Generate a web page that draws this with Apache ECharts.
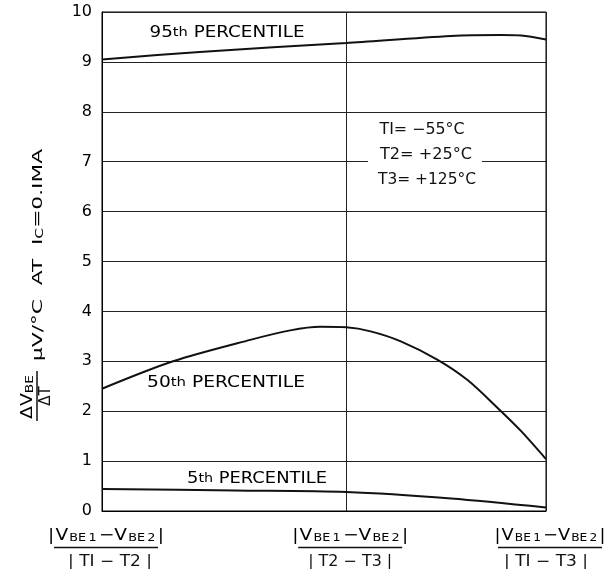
<!DOCTYPE html>
<html><head><meta charset="utf-8">
<script src="https://cdn.jsdelivr.net/npm/echarts@6/dist/echarts.min.js"></script>
<style>html,body{margin:0;padding:0;background:#fff}#c{width:605px;height:569px}</style>
</head><body><div id="c"></div>
<script>
// ---- data ----
const yTicks = [0, 1, 2, 3, 4, 5, 6, 7, 8, 9, 10];
const ratioPos = [0, 55, 100];               // x positions of the three ratio categories
const ratioDen = ['| TI − T2 |', '| T2 − T3 |', '| TI − T3 |'];
const p95X = [0, 22, 55, 78.6, 89.8, 94.4, 100];
const p95Y = [9.05, 9.2, 9.38, 9.52, 9.54, 9.53, 9.45];
const p50X = [0, 16, 33.4, 42.4, 49.2, 55, 60.5, 67.3, 75.6, 82.4, 89.4, 94.4, 100];
const p50Y = [2.45, 3.0, 3.43, 3.62, 3.69, 3.68, 3.6, 3.4, 3.03, 2.62, 2.04, 1.6, 1.04];
const p5X = [0, 30, 55, 78.6, 100];
const p5Y = [0.44, 0.41, 0.38, 0.25, 0.07];
const pctLabels = [['95', 'th', ' PERCENTILE'], ['50', 'th', ' PERCENTILE'], ['5', 'th', ' PERCENTILE']];
const tempLines = ['TI= −55°C', 'T2= +25°C', 'T3= +125°C'];

const FONT = 'DejaVu Sans';
const INK = '#111';
const chart = echarts.init(document.getElementById('c'), null, {renderer: 'canvas'});
const zip = (xs, ys) => xs.map((x, i) => [x, ys[i]]);
const lineSeries = (name, xs, ys) => ({
  name, type: 'line', data: zip(xs, ys), smooth: 0.3, showSymbol: false,
  lineStyle: {color: INK, width: 2}, silent: true, z: 3
});

chart.setOption({
  animation: false,
  backgroundColor: '#fff',
  grid: {left: 102, right: 59, top: 12, bottom: 58, show: true, borderColor: '#000', borderWidth: 1, backgroundColor: 'transparent'},
  xAxis: {
    type: 'value', min: ratioPos[0], max: ratioPos[2], interval: ratioPos[1],
    axisLine: {show: true, lineStyle: {color: '#000', width: 1}},
    axisTick: {show: false}, axisLabel: {show: false},
    splitLine: {show: true, lineStyle: {color: '#222', width: 1}}
  },
  yAxis: {
    type: 'value', min: yTicks[0], max: yTicks[yTicks.length - 1], interval: 1,
    axisLine: {show: true, lineStyle: {color: '#000', width: 1}},
    axisTick: {show: false},
    axisLabel: {color: '#000', fontSize: 16, fontFamily: FONT, margin: 10},
    splitLine: {show: true, lineStyle: {color: '#222', width: 1}}
  },
  series: [
    lineSeries('95th', p95X, p95Y),
    lineSeries('50th', p50X, p50Y),
    lineSeries('5th', p5X, p5Y)
  ]
});

// text measuring helper to stretch lettering to the reference width
const mctx = document.createElement('canvas').getContext('2d');
const tw = (s, size) => { mctx.font = size + 'px "' + FONT + '"'; return mctx.measureText(s).width; };
// tokens: [text, size, padLeft, padRight]
const richWidth = toks => toks.reduce((a, t) => a + tw(t[0], t[1]) + (t[2] || 0) + (t[3] || 0), 0);

const px = (x, y) => chart.convertToPixel({gridIndex: 0}, [x, y]);
const g = [];

// x ratio labels: |V_BE1 − V_BE2| / |Tx − Ty|
const numToks = [['|', 16, 0, 1], ['V', 16, 0, 1], ['BE', 11, 0, 2], ['1', 11, 0, 2], ['−V', 16, 0, 1], ['BE', 11, 0, 2], ['2', 11, 0, 2], ['|', 16, 0, 0]];
const numRich = {
  a: {fontSize: 16, fontFamily: FONT, color: INK, padding: [0, 1, 0, 0], verticalAlign: 'bottom', lineHeight: 18},
  b: {fontSize: 11, fontFamily: FONT, color: INK, padding: [0, 2, 0, 0], verticalAlign: 'bottom', lineHeight: 14},
  c: {fontSize: 16, fontFamily: FONT, color: INK, verticalAlign: 'bottom', lineHeight: 18}
};
const numText = '{a||}{a|V}{b|BE}{b|1}{a|−V}{b|BE}{b|2}{c||}';
const numW = richWidth(numToks);
ratioPos.forEach((v, i) => {
  const cx = px(v, 0)[0] + 4;
  const target = i === 2 ? 111 : 116;
  g.push({type: 'text', x: cx, y: 535, scaleX: target / numW, style: {text: numText, rich: numRich, align: 'center', verticalAlign: 'middle'}});
  g.push({type: 'line', shape: {x1: cx - 52, y1: 547.5, x2: cx + 52, y2: 547.5}, style: {stroke: INK, lineWidth: 1.5}});
  g.push({type: 'text', x: cx + (i === 0 ? 4 : i === 2 ? -4 : 0), y: 562, scaleX: 84 / tw(ratioDen[i], 15),
    style: {text: ratioDen[i], align: 'center', verticalAlign: 'middle', fill: INK, font: '15px "' + FONT + '"'}});
});

// percentile labels
const pctPos = [[227, 33, 155], [226, 383, 158], [257, 479, 140]];
pctLabels.forEach((p, i) => {
  const w = richWidth([[p[0], 15], [p[1], 12], [p[2], 15]]);
  g.push({type: 'text', x: pctPos[i][0], y: pctPos[i][1], scaleX: pctPos[i][2] / w, style: {
    text: '{a|' + p[0] + '}{b|' + p[1] + '}{a|' + p[2] + '}',
    rich: {a: {fontSize: 15, fontFamily: FONT, color: INK}, b: {fontSize: 12, fontFamily: FONT, color: INK}},
    align: 'center', verticalAlign: 'middle'}});
});

// temperature notes (with a break in the 7 gridline)
const y7 = px(0, 7)[1];
g.push({type: 'rect', shape: {x: 368, y: y7 - 2, width: 114, height: 4}, style: {fill: '#fff'}, z: 50});
const tempPos = [[422, 130, 85], [426, 155, 92], [427, 180, 98]];
tempLines.forEach((t, i) => g.push({type: 'text', x: tempPos[i][0], y: tempPos[i][1], z: 60,
  scaleX: tempPos[i][2] / tw(t, 15),
  style: {text: t, align: 'center', verticalAlign: 'middle', fill: INK, font: '15px "' + FONT + '"'}}));

// y axis title (rotated): ΔV_BE/ΔT  μV/°C AT I_C=0.IMA
const fracNumW = richWidth([['ΔV', 15], ['BE', 11]]);
const mainToks = [['μV/°C  AT  I', 14], ['C', 10], ['=0.IMA', 14]];
const mainW = richWidth(mainToks);
g.push({type: 'group', x: 37, y: 423, rotation: Math.PI / 2, children: [
  {type: 'text', x: 26, y: -10, scaleX: 44 / fracNumW, style: {text: '{n|ΔV}{s|BE}',
    rich: {n: {fontSize: 15, fontFamily: FONT, color: INK, verticalAlign: 'bottom', lineHeight: 17}, s: {fontSize: 11, fontFamily: FONT, color: INK, verticalAlign: 'bottom', lineHeight: 13}},
    align: 'center', verticalAlign: 'middle'}},
  {type: 'line', shape: {x1: 2, y1: 0, x2: 52, y2: 0}, style: {stroke: INK, lineWidth: 1.5}},
  {type: 'text', x: 27, y: 9, style: {text: 'ΔT', align: 'center', verticalAlign: 'middle', fill: INK, font: '15px "' + FONT + '"'}},
  {type: 'text', x: 62, y: 0, scaleX: 212 / mainW, style: {text: '{n|μV/°C  AT  I}{s|C}{n|=0.IMA}',
    rich: {n: {fontSize: 14, fontFamily: FONT, color: INK, verticalAlign: 'bottom', lineHeight: 16}, s: {fontSize: 10, fontFamily: FONT, color: INK, verticalAlign: 'bottom', lineHeight: 12}},
    align: 'left', verticalAlign: 'middle'}}
]});
chart.setOption({graphic: {elements: g}});
</script>
</body></html>
